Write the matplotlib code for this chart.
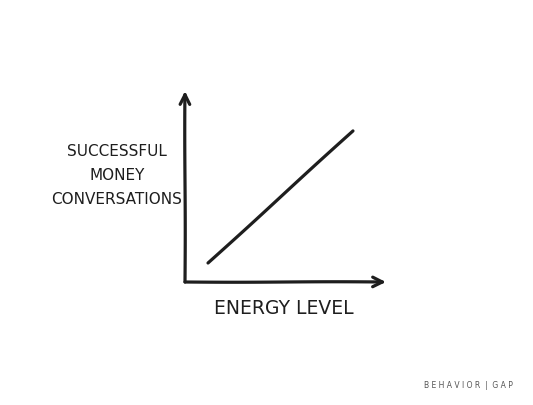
import numpy as np
import matplotlib.pyplot as plt

# data (axis units 0..10)
energy = [1.15, 8.4]
success = [1.0, 7.95]
ylabel_lines = ["SUCCESSFUL", "MONEY", "CONVERSATIONS"]
xlabel = "ENERGY LEVEL"
credit = "B E H A V I O R  |  G A P"

ink = "#1e1e1e"
plt.rcParams['path.sketch'] = (0.25, 200, 1)

fig = plt.figure(figsize=(5.33, 4.06), dpi=100)
ax = fig.add_axes([185/533, 1-283/406, 200/533, 190/406])
ax.set_xlim(0, 10)
ax.set_ylim(0, 10)
ax.axis('off')

ax.plot(energy, success, color=ink, lw=2.3, solid_capstyle='round')

# hand drawn axes with open arrow heads
arrow = dict(arrowstyle='->,head_length=0.7,head_width=0.35', color=ink, lw=2.3,
             shrinkA=0, shrinkB=0)
ax.annotate('', xy=(0, 10.05), xytext=(0, 0), xycoords='data', arrowprops=arrow,
            annotation_clip=False)
ax.annotate('', xy=(10.05, 0), xytext=(0, 0), xycoords='data', arrowprops=arrow,
            annotation_clip=False)

plt.rcParams['path.sketch'] = None
tkw = dict(color=ink, fontsize=11, ha='center', va='center',
           family=['Liberation Sans Narrow', 'DejaVu Sans'])
ys = [152, 176, 200]
for s, y in zip(ylabel_lines, ys):
    fig.text(117/533, 1-y/406, s, **tkw)
fig.text(284/533, 1-309/406, xlabel, **dict(tkw, fontsize=13.5))
fig.text(468/533, 1-386/406, credit, color='#555555', fontsize=5.5,
         ha='center', va='center', family='DejaVu Sans')

fig.savefig('out.png', dpi=100, facecolor='white')
